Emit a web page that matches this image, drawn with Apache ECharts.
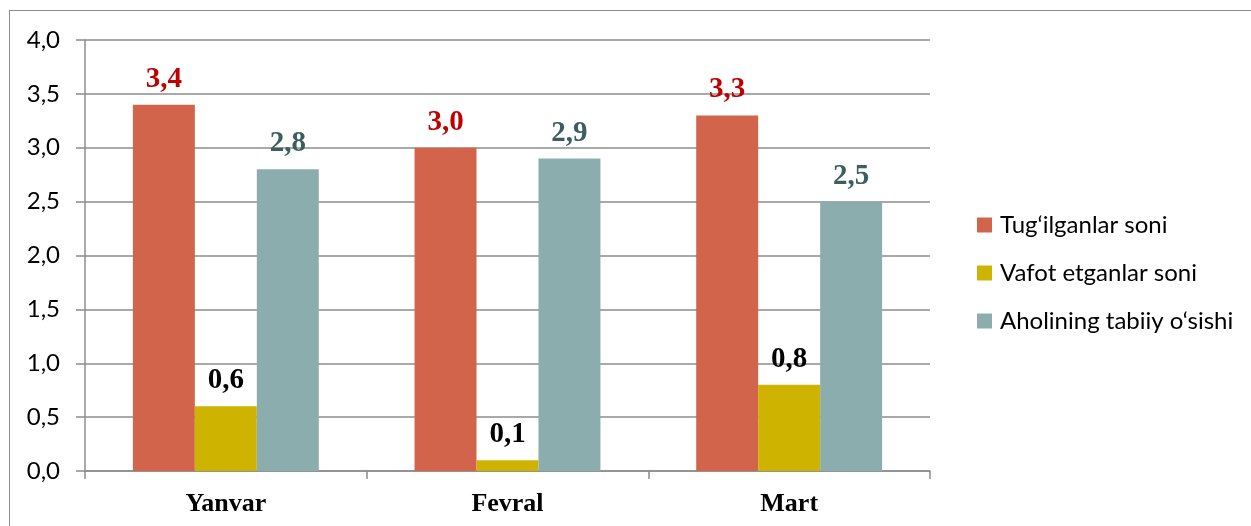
<!DOCTYPE html>
<html>
<head>
<meta charset="utf-8">
<script src="https://cdn.jsdelivr.net/npm/echarts@6/dist/echarts.min.js"></script>
<style>
  html, body { margin: 0; padding: 0; background: #fff; overflow: hidden; }
  #frame {
    position: absolute; left: 9px; top: 10px; width: 1300px; height: 600px;
    border: 1.5px solid #8c8c8c; box-sizing: border-box;
  }
  #chart { position: absolute; left: 0; top: 0; width: 1251px; height: 526px; }
</style>
</head>
<body>
<div id="frame"></div>
<div id="chart"></div>
<script>
const categories = ['Yanvar', 'Fevral', 'Mart']
const seriesNames = ['Tug‘ilganlar soni', 'Vafot etganlar soni', 'Aholining tabiiy o‘sishi']
const births = [3.4, 3.0, 3.3]
const deaths = [0.6, 0.1, 0.8]
const growth = [2.8, 2.9, 2.5]

const barColors = ['#d1644b', '#ceb400', '#8cadad']
const labelColors = ['#c00000', '#000000', '#3d5e5e']

const fmt = (v) => v.toFixed(1).replace('.', ',')

const chart = echarts.init(document.getElementById('chart'), null, { renderer: 'canvas' })

const makeSeries = (name, data, i) => ({
  name,
  type: 'bar',
  data,
  barGap: '0%',
  barCategoryGap: '34%',
  itemStyle: { color: barColors[i] },
  label: {
    show: true,
    position: 'top',
    distance: 11,
    formatter: (p) => fmt(p.value),
    color: labelColors[i],
    fontFamily: 'Liberation Serif',
    fontWeight: 'bold',
    fontSize: 29
  }
})

chart.setOption({
  animation: false,
  grid: { left: 85, right: 321, top: 40, bottom: 55, containLabel: false },
  legend: {
    orient: 'vertical',
    left: 972,
    top: 208,
    itemWidth: 15,
    itemHeight: 15,
    itemGap: 24,
    icon: 'rect',
    textStyle: { fontFamily: 'Lato', fontSize: 24, color: '#000', padding: [0, 0, 0, 3] },
    data: seriesNames
  },
  xAxis: {
    type: 'category',
    data: categories,
    axisLine: { lineStyle: { color: '#8c8c8c', width: 1.5 } },
    axisTick: { show: true, length: 8, lineStyle: { color: '#8c8c8c', width: 1.5 } },
    axisLabel: {
      color: '#000',
      fontFamily: 'Liberation Serif',
      fontWeight: 'bold',
      fontSize: 26,
      margin: 20
    }
  },
  yAxis: {
    type: 'value',
    min: 0,
    max: 4,
    interval: 0.5,
    axisLine: { show: true, lineStyle: { color: '#8c8c8c', width: 1.5 } },
    axisTick: { show: true, inside: false, length: 9, lineStyle: { color: '#8c8c8c', width: 1.5 } },
    splitLine: { lineStyle: { color: '#8c8c8c', width: 1.5 } },
    axisLabel: {
      color: '#000',
      fontFamily: 'Lato',
      fontSize: 24,
      margin: 25,
      formatter: (v) => fmt(v)
    }
  },
  series: [
    makeSeries(seriesNames[0], births, 0),
    makeSeries(seriesNames[1], deaths, 1),
    makeSeries(seriesNames[2], growth, 2)
  ]
})
</script>
</body>
</html>
